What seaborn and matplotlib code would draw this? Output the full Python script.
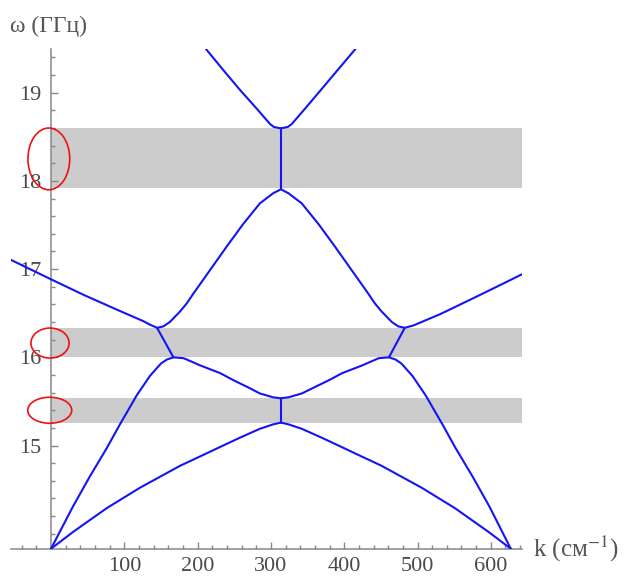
import matplotlib
matplotlib.use('Agg')
import matplotlib.pyplot as plt
from matplotlib.patches import Ellipse
from matplotlib.ticker import MultipleLocator
import pandas as pd
import seaborn as sns

# dispersion branches (k in cm^-1, omega in GHz)
k_low = [0, 30, 76, 121, 176, 203, 231, 258, 285, 303, 313.6, 324, 342, 369, 396, 424, 451, 506, 551, 597, 627.2]
w_low = [13.83, 14.02, 14.29, 14.52, 14.77, 14.875, 14.985, 15.09, 15.19, 15.24, 15.26, 15.24, 15.19, 15.09,
         14.985, 14.875, 14.77, 14.52, 14.29, 14.02, 13.83]

k_mid = [0, 30, 53, 76, 94, 117, 135, 150, 158, 167, 181, 203, 231, 249, 270, 285, 303, 313.6,
         324, 342, 358, 379, 397, 425, 447, 461, 470, 478, 493, 511, 534, 552, 575, 598, 627.2]
w_mid = [13.83, 14.31, 14.65, 14.97, 15.24, 15.57, 15.79, 15.93, 15.975, 16.0, 15.99, 15.91, 15.82, 15.74,
         15.655, 15.59, 15.547, 15.535, 15.547, 15.59, 15.655, 15.74, 15.82, 15.91, 15.99, 16.0,
         15.975, 15.93, 15.79, 15.57, 15.24, 14.97, 14.65, 14.31, 13.83]

k_up = [-56, -1.4, 44, 90, 126, 135, 144.6, 153, 162, 176, 185, 194, 217, 240, 262, 285, 303, 313.6,
        324, 342, 365, 387, 410, 433, 442, 451, 465, 474, 482.6, 494, 531, 576, 622, 642]
w_up = [17.11, 16.89, 16.71, 16.54, 16.41, 16.37, 16.335, 16.35, 16.40, 16.52, 16.61, 16.72, 16.99,
        17.26, 17.51, 17.746, 17.86, 17.905, 17.86, 17.746, 17.51, 17.26, 16.99, 16.72, 16.61, 16.52,
        16.40, 16.35, 16.335, 16.36, 16.49, 16.67, 16.857, 16.94]

k_top = [211.5, 235, 258, 280.6, 298.8, 304, 313.6, 323, 328.4, 346.6, 369, 392, 415.7]
w_top = [19.495, 19.257, 19.03, 18.82, 18.645, 18.612, 18.596, 18.612, 18.645, 18.82, 19.04, 19.267, 19.50]

# jumps across the gaps
jump_k = [[313.6, 313.6], [313.6, 313.6], [144.6, 167], [482.6, 461]]
jump_w = [[15.26, 15.535], [17.905, 18.596], [16.335, 16.0], [16.335, 16.0]]

# band gaps
gap_lo = [15.26, 16.0, 17.915]
gap_hi = [15.535, 16.33, 18.596]

# red ellipses marking the gaps
ell_k = [-3, -1.4, -1.8]
ell_w = [18.25, 16.162, 15.40]
ell_dk = [57, 52, 60]
ell_dw = [0.70, 0.34, 0.295]

x_ticks = [100, 200, 300, 400, 500, 600]
y_ticks = [15, 16, 17, 18, 19]

rows = []
for name, ks, ws in [('low', k_low, w_low), ('mid', k_mid, w_mid), ('up', k_up, w_up), ('top', k_top, w_top)]:
    for k, w in zip(ks, ws):
        rows.append((name, k, w))
for i, (ks, ws) in enumerate(zip(jump_k, jump_w)):
    for k, w in zip(ks, ws):
        rows.append(('jump%d' % i, k, w))
df = pd.DataFrame(rows, columns=['branch', 'k', 'w'])

sns.set_style('white')
plt.rcParams['font.family'] = ['Liberation Serif', 'DejaVu Serif']
plt.rcParams['mathtext.fontset'] = 'stix'

fig = plt.figure(figsize=(6.27, 5.79), dpi=100)
ax = fig.add_axes([0.0171, 0.0523, 0.8148, 0.8637])

xmin, xmax = -55, 642
ymin, ymax = 13.83, 19.5

for lo, hi in zip(gap_lo, gap_hi):
    ax.fill_between([0, xmax], lo, hi, color='#cccccc', lw=0, zorder=0)

sns.lineplot(data=df, x='k', y='w', units='branch', estimator=None, sort=False,
             color='#1414f5', lw=1.5, ax=ax, legend=False, zorder=3)

for ck, cw, dk, dw in zip(ell_k, ell_w, ell_dk, ell_dw):
    ax.add_patch(Ellipse((ck, cw), dk, dw, fill=False, ec='#ee1111', lw=1.2, zorder=4))

ax.set_xlim(xmin, xmax)
ax.set_ylim(ymin, ymax)
ax.set_xlabel('')
ax.set_ylabel('')

for s in ['top', 'right']:
    ax.spines[s].set_visible(False)
ax.spines['left'].set_position(('data', 0))
for s in ['left', 'bottom']:
    ax.spines[s].set_color('#888888')
    ax.spines[s].set_linewidth(1.1)

ax.set_xticks(x_ticks)
ax.set_yticks(y_ticks)
ax.xaxis.set_minor_locator(MultipleLocator(20))
ax.yaxis.set_minor_locator(MultipleLocator(0.2))
ax.tick_params(which='both', direction='in', color='#888888', width=1.0, labelsize=16,
               labelcolor='#4a4a4a', bottom=True, left=True)
ax.tick_params(which='major', length=5)
ax.tick_params(which='minor', length=3)
ax.tick_params(axis='y', pad=7)
ax.tick_params(axis='x', pad=6)
ax.patch.set_alpha(0)

fig.text(10 / 627, 1 - 26 / 579, 'ω (ГГц)', fontsize=17, color='#555555', va='center', ha='left')
fig.text(533 / 627, 1 - 549 / 579, 'k (см$^{-1}$)', fontsize=18, color='#555555', va='center', ha='left')

fig.savefig('out.png', dpi=100)
